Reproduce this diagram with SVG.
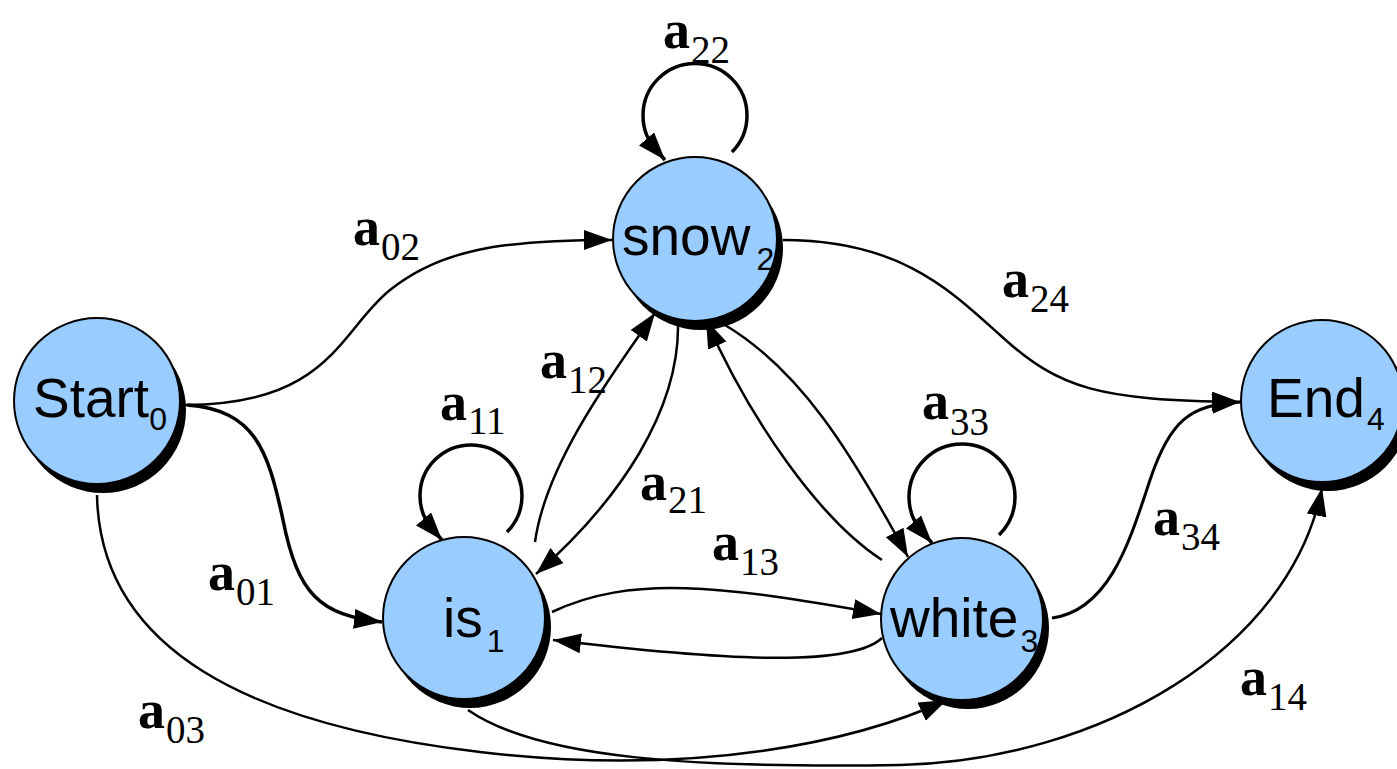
<svg xmlns="http://www.w3.org/2000/svg" width="1397" height="769" viewBox="0 0 1397 769">
<style>
.shadow{fill:#000}
.node{fill:#99ccff;stroke:#000;stroke-width:2}
.nt{font-family:"Liberation Sans",Arial,sans-serif;font-size:55px;fill:#000}
.ns{font-size:32px}
.edge{fill:none;stroke:#000;stroke-width:2.5}
.lbl{font-family:"Liberation Serif","Times New Roman",serif;font-size:54px;font-weight:bold;fill:#000}
.sub{font-size:39px;font-weight:normal}
</style>
<defs>
<marker id="ah" markerUnits="userSpaceOnUse" markerWidth="30" markerHeight="22" refX="28" refY="10" orient="auto">
<path d="M0,0 L28,10 L0,20 z" fill="#000"/>
</marker>
</defs>
<rect width="1397" height="769" fill="#fff"/>
<g id="connectors">
<path class="edge" marker-end="url(#ah)" d="M185,405 C330,405 340,330 390,290 C440,250 500,240 612,240"/>
<path class="edge" style="stroke-width:3.5" marker-end="url(#ah)" d="M187,405 C255,410 268,450 283,520 C298,595 320,615 382,622"/>
<path class="edge" marker-end="url(#ah)" d="M97,495 C100,650 250,725 480,752 C700,778 860,740 947,700"/>
<path class="edge" marker-end="url(#ah)" d="M468,710 C540,760 700,768 900,765 C1100,760 1290,650 1322,488"/>
<path class="edge" marker-end="url(#ah)" d="M783,240 C900,240 950,290 1000,335 C1060,390 1100,400 1240,402"/>
<path class="edge" style="stroke-width:3" marker-end="url(#ah)" d="M1052,618 C1110,610 1130,540 1150,480 C1170,420 1190,405 1240,402"/>
<path class="edge" marker-end="url(#ah)" d="M535,542 C545,470 600,390 655,313"/>
<path class="edge" marker-end="url(#ah)" d="M678,322 C680,410 620,500 536,574"/>
<path class="edge" marker-end="url(#ah)" d="M725,325 C800,370 850,450 908,557"/>
<path class="edge" marker-end="url(#ah)" d="M882,560 C820,520 750,420 706,320"/>
<path class="edge" marker-end="url(#ah)" d="M552,612 C630,575 720,585 881,614"/>
<path class="edge" marker-end="url(#ah)" d="M882,638 C850,668 720,660 553,640"/>
<path class="edge" style="stroke-width:3.5" marker-end="url(#ah)" d="M732,152 A52,52 0 1 0 658,152 L665,160"/>
<path class="edge" style="stroke-width:3.5" marker-end="url(#ah)" d="M507,532 A51,51 0 1 0 435,532 L442,540"/>
<path class="edge" style="stroke-width:3.5" marker-end="url(#ah)" d="M999,535 A53,53 0 1 0 925,535 L932,543"/>
</g>
<g id="labels">
<text class="lbl" x="663" y="48">a<tspan class="sub" dx="1" dy="15">22</tspan></text>
<text class="lbl" x="353" y="245">a<tspan class="sub" dx="1" dy="15">02</tspan></text>
<text class="lbl" x="1002" y="297">a<tspan class="sub" dx="1" dy="15">24</tspan></text>
<text class="lbl" x="208" y="590">a<tspan class="sub" dx="1" dy="15">01</tspan></text>
<text class="lbl" x="138" y="728">a<tspan class="sub" dx="1" dy="15">03</tspan></text>
<text class="lbl" x="440" y="420">a<tspan class="sub" dx="1" dy="14">11</tspan></text>
<text class="lbl" x="922" y="419">a<tspan class="sub" dx="1" dy="16">33</tspan></text>
<text class="lbl" x="540" y="378">a<tspan class="sub" dx="1" dy="15">12</tspan></text>
<text class="lbl" x="640" y="500">a<tspan class="sub" dx="1" dy="13">21</tspan></text>
<text class="lbl" x="712" y="560">a<tspan class="sub" dx="1" dy="15">13</tspan></text>
<text class="lbl" x="1153" y="535">a<tspan class="sub" dx="1" dy="15">34</tspan></text>
<text class="lbl" x="1240" y="695">a<tspan class="sub" dx="1" dy="15">14</tspan></text>
</g>
<g id="start">
<circle class="shadow" cx="103" cy="410" r="83"/>
<circle class="node" cx="97" cy="401" r="83"/>
<text class="nt" x="33" y="417">Start<tspan class="ns" dy="13">0</tspan></text>
</g>
<g id="snow">
<circle class="shadow" cx="701" cy="248" r="82"/>
<circle class="node" cx="695" cy="239" r="82"/>
<text class="nt" x="622" y="255">snow<tspan class="ns" dx="6" dy="15">2</tspan></text>
</g>
<g id="is">
<circle class="shadow" cx="470" cy="627" r="81"/>
<circle class="node" cx="464" cy="618" r="81"/>
<text class="nt" x="443" y="637">is<tspan class="ns" dx="4" dy="15">1</tspan></text>
</g>
<g id="white">
<circle class="shadow" cx="968" cy="628" r="81"/>
<circle class="node" cx="962" cy="619" r="81"/>
<text class="nt" x="890" y="637">white<tspan class="ns" dx="2" dy="15">3</tspan></text>
</g>
<g id="end">
<circle class="shadow" cx="1328" cy="410" r="81"/>
<circle class="node" cx="1322" cy="401" r="81"/>
<text class="nt" x="1267" y="417">End<tspan class="ns" dx="2" dy="13">4</tspan></text>
</g>
</svg>
